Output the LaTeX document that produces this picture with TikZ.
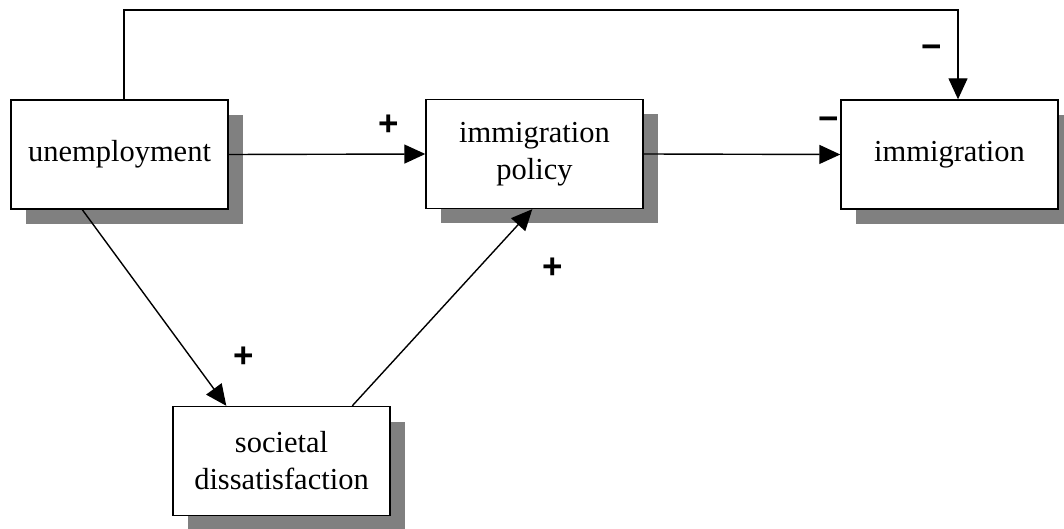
\documentclass[tikz,border=0pt]{standalone}
\usepackage{fontspec}
\setmainfont{Liberation Serif}
\newfontfamily\signfont{Liberation Sans}
\usetikzlibrary{arrows.meta,shadows}
\definecolor{shadowgray}{RGB}{128,128,128}
\tikzset{
  boxnode/.style={draw, line width=1.4pt, fill=white, minimum width=217pt, minimum height=109pt,
    align=center, font=\fontsize{30.5}{37}\selectfont, inner sep=0pt,
    general shadow={shadow xshift=15pt, shadow yshift=-15pt, fill=shadowgray, draw=none}},
  link/.style={line width=1.4pt, -{Triangle[length=21pt,width=19pt]}},
  sign/.style={font=\signfont\bfseries\fontsize{35}{35}\selectfont, inner sep=0pt}
}
\begin{document}
\begin{tikzpicture}[x=1pt,y=-1pt]
\useasboundingbox (0,0) rectangle (1064,529);
\node[boxnode] (u) at (119.5,154.5) {unemployment};
\node[boxnode] (p) at (534.5,154) {immigration\\policy};
\node[boxnode] (im) at (949.5,154.5) {immigration};
\node[boxnode] (s) at (281.5,461) {societal\\dissatisfaction};
\coordinate (ta) at (124,10);
\coordinate (tb) at (958,10);
\draw[link] (ta |- u.north) -- (ta) -- (tb) -- (tb |- im.north);
\draw[link] (u.east) -- (p.west);
\draw[link] (p.east) -- (im.west);
\draw[link] ([xshift=72pt]u.south west) -- ([xshift=54pt]s.north west);
\draw[link] ([xshift=180pt]s.north west) -- ([xshift=107pt]p.south west);
\node[sign] (l1) at (389,125) {+};
\node[sign] (l2) at (829,124) {−};
\node[sign] (l3) at (932,52) {−};
\node[sign] (l4) at (553,268) {+};
\node[sign] (l5) at (244,357) {+};
\end{tikzpicture}
\end{document}
